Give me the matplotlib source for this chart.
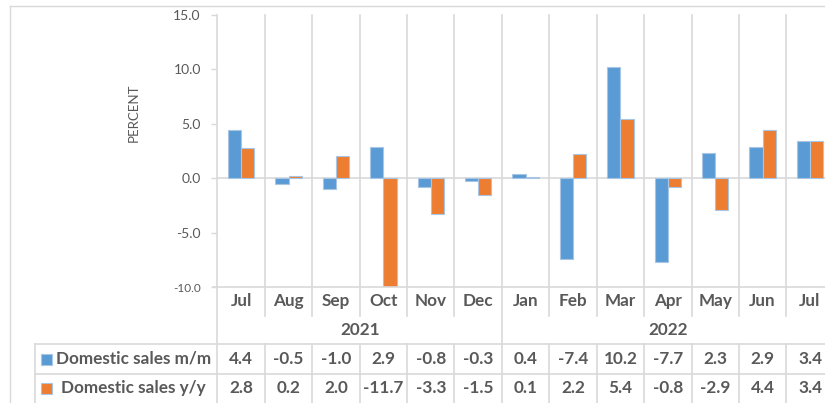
import numpy as np
import matplotlib.pyplot as plt
from matplotlib import transforms
from matplotlib.lines import Line2D
from matplotlib.patches import Rectangle

months = ['Jul', 'Aug', 'Sep', 'Oct', 'Nov', 'Dec', 'Jan', 'Feb', 'Mar', 'Apr', 'May', 'Jun', 'Jul']
years = ['2021', '2022']
year_spans = [(0, 5), (6, 12)]
sales_mm = [4.4, -0.5, -1.0, 2.9, -0.8, -0.3, 0.4, -7.4, 10.2, -7.7, 2.3, 2.9, 3.4]
sales_yy = [2.8, 0.2, 2.0, -11.7, -3.3, -1.5, 0.1, 2.2, 5.4, -0.8, -2.9, 4.4, 3.4]
series_names = ['Domestic sales m/m', 'Domestic sales y/y']

BLUE = '#5b9bd5'
ORANGE = '#ed7d31'
EDGE = '#a8c6e4'
GRID = '#d9d9d9'
TXT = '#595959'
FONT = 'Lato'

W, H = 825, 403
fig = plt.figure(figsize=(W / 100, H / 100), dpi=100)
ax = fig.add_axes([217.5 / W, 1 - 287 / H, 13 * 47.4 / W, 272 / H])

x = np.arange(len(months))
ax.bar(x - 0.14, sales_mm, width=0.28, color=BLUE, edgecolor=EDGE, linewidth=0.8, zorder=3)
ax.bar(x + 0.14, sales_yy, width=0.28, color=ORANGE, edgecolor=EDGE, linewidth=0.8, zorder=3)
ax.axhline(0, color=GRID, linewidth=1.2, zorder=2)

ax.set_xlim(-0.5, 12.5)
ax.set_ylim(-10, 15)
ax.set_xticks([])
yt = np.arange(-10, 16, 5)
ax.set_yticks(yt)
ax.set_yticklabels([f'{v:.1f}' for v in yt], color=TXT, fontsize=10, family=FONT)
ax.get_yticklabels()[0].set_fontsize(8.5)
ax.tick_params(axis='y', length=4, color=GRID, width=1, pad=8)
for s in ax.spines.values():
    s.set_visible(False)

fig.text(134 / W, 1 - 113 / H, 'PERCENT', rotation=90, ha='center', va='center',
         color=TXT, fontsize=9.5, family=FONT)


def py(p):
    return 1 - p / H


tb = transforms.blended_transform_factory(ax.transData, fig.transFigure)
lw = 1.2

# column separators
for k in range(len(months) + 1):
    xb = k - 0.5
    if k in (0, 6):
        segs = [(15, 403)]
    else:
        segs = [(15, 316), (344, 403)]
    for a, b in segs:
        fig.add_artist(Line2D([xb, xb], [py(a), py(b)], transform=tb, color=GRID, lw=lw))

# horizontal table lines (figure px)
for yp, x0 in [(287, 213), (344, 35), (374, 35)]:
    fig.add_artist(Line2D([x0 / W, 1], [py(yp), py(yp)], transform=fig.transFigure, color=GRID, lw=lw))
fig.add_artist(Line2D([35 / W, 35 / W], [py(344), py(403)], transform=fig.transFigure, color=GRID, lw=lw))

# outer frame
fig.add_artist(Line2D([10 / W, 1], [py(5.5), py(5.5)], transform=fig.transFigure, color=GRID, lw=1))
fig.add_artist(Line2D([10 / W, 10 / W], [py(5.5), 0], transform=fig.transFigure, color=GRID, lw=1))

bold = dict(color=TXT, fontsize=12.3, fontweight='bold', family=FONT, ha='center', va='center')
for i, m in enumerate(months):
    fig.text(i, py(301), m, transform=tb, **bold)
    fig.text(i, py(359), f'{sales_mm[i]:.1f}', transform=tb, **bold)
    fig.text(i, py(388), f'{sales_yy[i]:.1f}', transform=tb, **bold)
for yr, (a, b) in zip(years, year_spans):
    fig.text((a - 0.5 + b + 0.5) / 2 if b < 12 else (a - 0.5 + 12.5) / 2, py(330), yr, transform=tb, **bold)

# legend keys
for (name, col, yc, tx) in [(series_names[0], BLUE, 359, 56), (series_names[1], ORANGE, 388, 61)]:
    fig.add_artist(Rectangle((41 / W, py(yc + 5.5)), 11 / W, 11 / H, transform=fig.transFigure,
                             facecolor=col, edgecolor=EDGE, lw=0.8))
    fig.text(tx / W, py(yc), name, color=TXT, fontsize=12.3, fontweight='bold', family=FONT,
             ha='left', va='center')

fig.savefig('out.png', dpi=100)
